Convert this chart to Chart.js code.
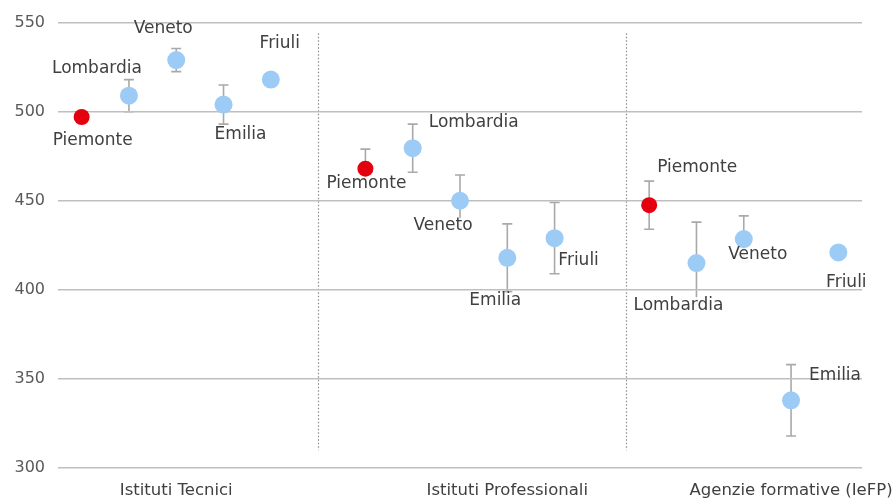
<!DOCTYPE html>
<html>
<head>
<meta charset="utf-8">
<script src="https://cdn.jsdelivr.net/npm/chart.js@4/dist/chart.umd.min.js"></script>
<style>
  html, body { margin: 0; padding: 0; background: #fff; }
  #wrap { width: 896px; height: 499px; }
</style>
</head>
<body>
<div id="wrap"><canvas id="chart"></canvas></div>
<script>
// Dati
const groups = ['Istituti Tecnici', 'Istituti Professionali', 'Agenzie formative (IeFP)'];
const regions = ['Piemonte', 'Lombardia', 'Veneto', 'Emilia', 'Friuli'];
const tecnici = [497, 509, 529, 504, 518];
const tecniciErr = [3, 9, 6.5, 11, 1];
const professionali = [468, 479.5, 450, 418, 429];
const professionaliErr = [11, 13.5, 14.5, 19, 20];
const agenzie = [447.5, 415, 428.5, 338, 421];
const agenzieErr = [13.5, 23, 13, 20, 2];
const yTicks = [300, 350, 400, 450, 500, 550];

// Posizione dei gruppi sull'asse x
const groupStart = [0, 6, 12];
const groupLabelAt = [2, 9, 15];
const dividers = [5, 11.5];

// Spostamento etichette (px) rispetto al punto
const labelOffsets = [
    [[11, 24], [-32, -27], [-13, -31], [17, 30], [9, -36]],
    [[1, 15], [61, -26], [-17, 25], [-12, 43], [24, 22]],
    [[48, -38], [-18, 42], [14, 16], [44, -25], [8, 30]]
];

const BLUE = '#9ccbf5';
const RED = '#e4000f';
const FONT = '"DejaVu Sans", sans-serif';
const LABEL_FONT = '17px ' + FONT;

function makeDataset(values, errors, g) {
    return {
        label: groups[g],
        data: values.map((v, i) => ({ x: groupStart[g] + i, y: v, err: errors[i], name: regions[i] })),
        pointBackgroundColor: regions.map((r, i) => i === 0 ? RED : BLUE),
        pointBorderWidth: 0,
        pointRadius: regions.map((r, i) => i === 0 ? 8 : 9),
        pointHoverRadius: 9,
        showLine: false,
        groupIndex: g
    };
}

function labelBox(ctx, chart, ds, di, i) {
    const meta = chart.getDatasetMeta(di);
    const off = labelOffsets[ds.groupIndex][i];
    const cx = meta.data[i].x + off[0];
    const cy = meta.data[i].y + off[1];
    const w = ctx.measureText(ds.data[i].name).width;
    return { cx, cy, w };
}

// Separatori, barre d'errore e fondo etichette: sotto la griglia
const underlay = {
    id: 'underlay',
    beforeDraw(chart) {
        const { ctx, scales: { x, y } } = chart;
        ctx.save();
        // separatori tratteggiati
        ctx.strokeStyle = '#8c8c8c';
        ctx.lineWidth = 1.2;
        ctx.setLineDash([1.5, 2]);
        dividers.forEach(v => {
            const px = Math.round(x.getPixelForValue(v)) + 0.5;
            ctx.beginPath();
            ctx.moveTo(px, y.getPixelForValue(544));
            ctx.lineTo(px, y.getPixelForValue(310));
            ctx.stroke();
        });
        ctx.setLineDash([]);
        // barre d'errore
        ctx.strokeStyle = '#a9a9a9';
        ctx.lineWidth = 1.6;
        chart.data.datasets.forEach((ds, di) => {
            const meta = chart.getDatasetMeta(di);
            ds.data.forEach((d, i) => {
                const px = meta.data[i].x;
                const top = y.getPixelForValue(d.y + d.err);
                const bot = y.getPixelForValue(d.y - d.err);
                ctx.beginPath();
                ctx.moveTo(px, top); ctx.lineTo(px, bot);
                ctx.moveTo(px - 5, top); ctx.lineTo(px + 5, top);
                ctx.moveTo(px - 5, bot); ctx.lineTo(px + 5, bot);
                ctx.stroke();
            });
        });
        // fondo bianco delle etichette (copre le barre, non la griglia)
        ctx.font = LABEL_FONT;
        ctx.fillStyle = 'rgba(255,255,255,0.9)';
        chart.data.datasets.forEach((ds, di) => {
            ds.data.forEach((d, i) => {
                const b = labelBox(ctx, chart, ds, di, i);
                ctx.fillRect(b.cx - b.w / 2 - 1, b.cy - 8, b.w + 2, 16);
            });
        });
        ctx.restore();
    }
};

// Etichette delle regioni
const pointLabels = {
    id: 'pointLabels',
    afterDatasetsDraw(chart) {
        const { ctx } = chart;
        ctx.save();
        ctx.font = LABEL_FONT;
        ctx.textAlign = 'center';
        ctx.textBaseline = 'middle';
        ctx.fillStyle = '#404040';
        chart.data.datasets.forEach((ds, di) => {
            ds.data.forEach((d, i) => {
                const b = labelBox(ctx, chart, ds, di, i);
                ctx.fillText(d.name, b.cx, b.cy);
            });
        });
        ctx.restore();
    }
};

new Chart(document.getElementById('chart'), {
    type: 'scatter',
    data: {
        datasets: [
            makeDataset(tecnici, tecniciErr, 0),
            makeDataset(professionali, professionaliErr, 1),
            makeDataset(agenzie, agenzieErr, 2)
        ]
    },
    options: {
        responsive: true,
        maintainAspectRatio: false,
        animation: false,
        layout: { padding: { top: 22, right: 34, left: 0, bottom: 0 } },
        plugins: {
            legend: { display: false },
            tooltip: {
                callbacks: {
                    label: c => `${c.raw.name}: ${c.raw.y} ± ${c.raw.err}`
                }
            }
        },
        scales: {
            x: {
                type: 'linear',
                min: -0.5,
                max: 16.5,
                grid: { display: false, drawTicks: false },
                border: { display: false },
                afterBuildTicks: axis => { axis.ticks = groupLabelAt.map(v => ({ value: v })); },
                afterFit: axis => { axis.height = 31; axis.paddingLeft = 0; axis.paddingRight = 0; },
                ticks: {
                    padding: 13,
                    autoSkip: false,
                    maxRotation: 0,
                    color: '#404040',
                    font: { family: FONT, size: 16.5 },
                    callback: v => groups[groupLabelAt.indexOf(v)] || ''
                }
            },
            y: {
                min: 300,
                max: 550,
                afterBuildTicks: axis => { axis.ticks = yTicks.map(v => ({ value: v })); },
                afterFit: axis => { axis.width = 58; },
                grid: { color: '#bfbfbf', lineWidth: 1.5, drawTicks: false },
                border: { display: false },
                ticks: {
                    padding: 13,
                    color: '#595959',
                    font: { family: FONT, size: 16 }
                }
            }
        }
    },
    plugins: [underlay, pointLabels]
});
</script>
</body>
</html>
